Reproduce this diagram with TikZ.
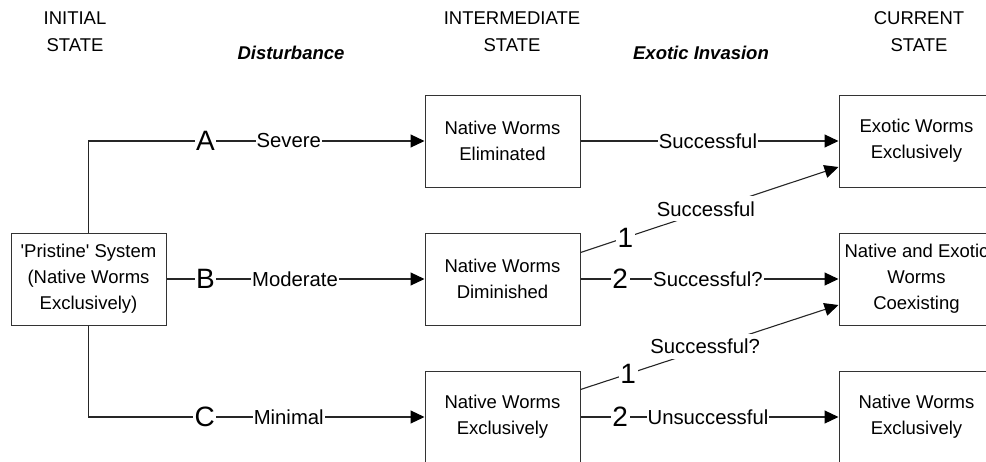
\documentclass[tikz,border=0pt]{standalone}
\usepackage{fontspec}
\setmainfont{Liberation Sans}
\usetikzlibrary{arrows.meta,calc}
\begin{document}
\begin{tikzpicture}[x=1pt,y=-1pt,
  box/.style={draw=black!80,line width=1pt,minimum width=155pt,minimum height=92pt,
    inner sep=0pt,align=center,font=\fontsize{18.5}{26}\selectfont},
  head/.style={align=center,font=\fontsize{18.5}{27}\selectfont},
  conn/.style={draw=black!85,line width=1.1pt},
  arr/.style={conn,-{Triangle[length=14pt,width=13pt,color=black]}},
  lab/.style={fill=white,inner xsep=1pt,inner ysep=0pt,font=\fontsize{20.3}{22}\selectfont},
  dlab/.style={fill=white,inner xsep=1pt,inner ysep=5pt,font=\fontsize{20.3}{22}\selectfont},
  big/.style={fill=white,inner xsep=1.5pt,inner ysep=0pt,font=\fontsize{28}{30}\selectfont}]
\useasboundingbox (0,0) rectangle (986,461);
\clip (0,0) rectangle (986,461);
% headers
\node[head] (h1) at (75,32) {INITIAL\\STATE};
\node[head] (h2) at (512,32) {INTERMEDIATE\\STATE};
\node[head] (h3) at (919,32) {CURRENT\\STATE};
\node[head,font=\fontsize{18.5}{22}\bfseries\itshape] (d1) at (291,53) {Disturbance};
\node[head,font=\fontsize{18.5}{22}\bfseries\itshape] (d2) at (701,53) {Exotic Invasion};
% boxes
\node[box] (pr) at (88.5,279) {\textquotesingle Pristine\textquotesingle\ System\\(Native Worms\\Exclusively)};
\node[box] (el) at (502.5,141) {Native Worms\\Eliminated};
\node[box] (di) at (502.5,279) {Native Worms\\Diminished};
\node[box] (ex) at (502.5,417) {Native Worms\\Exclusively};
\node[box] (eo) at (916.5,141) {Exotic Worms\\Exclusively};
\node[box] (co) at (916.5,279) {Native and Exotic\\Worms\\Coexisting};
\node[box] (ne) at (916.5,417) {Native Worms\\Exclusively};
% disturbance connectors
\draw[arr] (pr.north) |- (el.west)
  node[big,pos=0.674] {A} node[lab,pos=0.798] {Severe};
\draw[arr] (pr.east) -- (di.west)
  node[big,pos=0.151] {B} node[lab,pos=0.498] {Moderate};
\draw[arr] (pr.south) |- (ex.west)
  node[big,pos=0.673] {C} node[lab,pos=0.798] {Minimal};
% invasion connectors
\coordinate (s1) at ($(di.north east)+(0,20)$);
\coordinate (t1) at ($(eo.west)+(0,26)$);
\coordinate (s2) at ($(ex.north east)+(0,19)$);
\coordinate (t2) at ($(co.west)+(0,26)$);
\draw[arr] (el.east) -- (eo.west) node[lab,pos=0.494] {Successful};
\draw[arr] (s1) -- (t1) node[big,pos=0.174] {1} node[dlab,pos=0.486,yshift=2pt] {Successful};
\draw[arr] (di.east) -- (co.west) node[big,pos=0.154] {2} node[lab,pos=0.494] {Successful?};
\draw[arr] (s2) -- (t2) node[big,pos=0.185] {1} node[dlab,pos=0.483,yshift=2pt] {Successful?};
\draw[arr] (ex.east) -- (ne.west) node[big,pos=0.154] {2} node[lab,pos=0.494] {Unsuccessful};
\end{tikzpicture}
\end{document}
